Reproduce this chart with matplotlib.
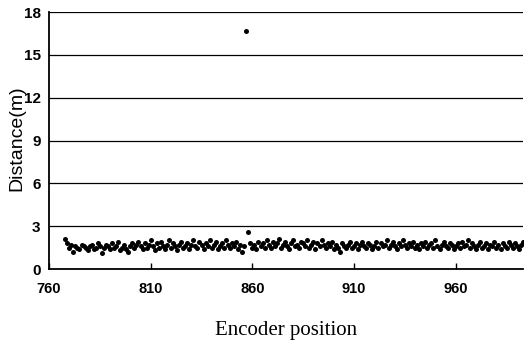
import matplotlib
matplotlib.use("Agg")
import matplotlib.pyplot as plt

encoder_start = 768
distance = [
    2.1, 1.8, 1.5, 1.7, 1.2, 1.6, 1.5, 1.4, 1.7, 1.6,
    1.5, 1.3, 1.6, 1.7, 1.4, 1.5, 1.8, 1.6, 1.1, 1.5,
    1.7, 1.6, 1.4, 1.8, 1.5, 1.6, 1.9, 1.3, 1.5, 1.7,
    1.4, 1.2, 1.6, 1.8, 1.5, 1.7, 1.9, 1.6, 1.4, 1.8,
    1.5, 1.7, 2.0, 1.6, 1.3, 1.8, 1.5, 1.9, 1.6, 1.4,
    1.7, 2.0, 1.5, 1.8, 1.6, 1.3, 1.7, 1.9, 1.5, 1.6,
    1.8, 1.4, 1.7, 2.0, 1.6, 1.5, 1.9, 1.7, 1.4, 1.8,
    1.6, 2.0, 1.5, 1.7, 1.9, 1.4, 1.6, 1.8, 1.5, 2.0,
    1.7, 1.5, 1.8, 1.6, 1.9, 1.4, 1.7, 1.2, 1.6, 16.7,
    2.6, 1.8, 1.5, 1.7, 1.4, 1.9, 1.6, 1.8, 1.5, 2.0,
    1.7, 1.5, 1.9, 1.6, 1.8, 2.1, 1.5, 1.7, 1.9, 1.6,
    1.4, 1.8, 2.0, 1.6, 1.7, 1.5, 1.9, 1.8, 1.6, 2.0,
    1.5, 1.7, 1.9, 1.4, 1.8, 1.6, 2.0, 1.7, 1.5, 1.8,
    1.6, 1.9, 1.4, 1.7, 1.5, 1.2, 1.8, 1.6, 1.5, 1.7,
    1.9, 1.5, 1.6, 1.8, 1.4, 1.7, 1.9, 1.6, 1.5, 1.8,
    1.7, 1.4, 1.6, 1.9, 1.5, 1.8, 1.6, 1.7, 2.0, 1.5,
    1.7, 1.9, 1.6, 1.4, 1.8, 1.6, 2.0, 1.7, 1.5, 1.8,
    1.6, 1.9, 1.5, 1.7, 1.4, 1.8, 1.6, 1.9, 1.5, 1.7,
    1.8, 1.5, 2.0, 1.6, 1.4, 1.7, 1.9, 1.6, 1.5, 1.8,
    1.7, 1.4, 1.6, 1.8, 1.5, 1.9, 1.6, 1.7, 2.0, 1.5,
    1.8, 1.6, 1.4, 1.7, 1.9, 1.5, 1.6, 1.8, 1.4, 1.7,
    1.6, 1.9, 1.5, 1.7, 1.4, 1.8, 1.6, 1.5, 1.9, 1.7,
    1.5, 1.8, 1.6, 1.4, 1.7, 1.9,
]
encoder = list(range(encoder_start, encoder_start + len(distance)))

x_ticks = [760, 810, 860, 910, 960]
y_ticks = [0, 3, 6, 9, 12, 15, 18]

fig = plt.figure(figsize=(5.25, 3.43), dpi=100)
ax = fig.add_axes([0.0933, 0.2157, 0.9027, 0.7493])

ax.scatter(encoder, distance, s=13, color="black", zorder=3, linewidths=0)

ax.set_xlim(760, 993)
ax.set_ylim(0, 18)
ax.set_xticks(x_ticks)
ax.set_yticks(y_ticks)
for y in y_ticks[1:]:
    ax.axhline(y, color="black", lw=0.9, zorder=1)

for s in ["top", "right"]:
    ax.spines[s].set_visible(False)
for s in ["left", "bottom"]:
    ax.spines[s].set_linewidth(1.3)
    ax.spines[s].set_color("black")

ax.tick_params(axis="x", direction="in", length=4, width=1, pad=9,
               labelsize=10.5)
ax.tick_params(axis="y", length=0, pad=6, labelsize=11)
for lab in ax.get_xticklabels() + ax.get_yticklabels():
    lab.set_fontfamily("Liberation Sans")
    lab.set_fontweight("bold")

ax.set_ylabel("Distance(m)", fontfamily="Liberation Sans", fontsize=14)
ax.yaxis.set_label_coords(-0.05, 0.51)
ax.set_xlabel("Encoder position", fontfamily="Liberation Serif", fontsize=15,
              labelpad=18)

fig.savefig("out.png", dpi=100)
